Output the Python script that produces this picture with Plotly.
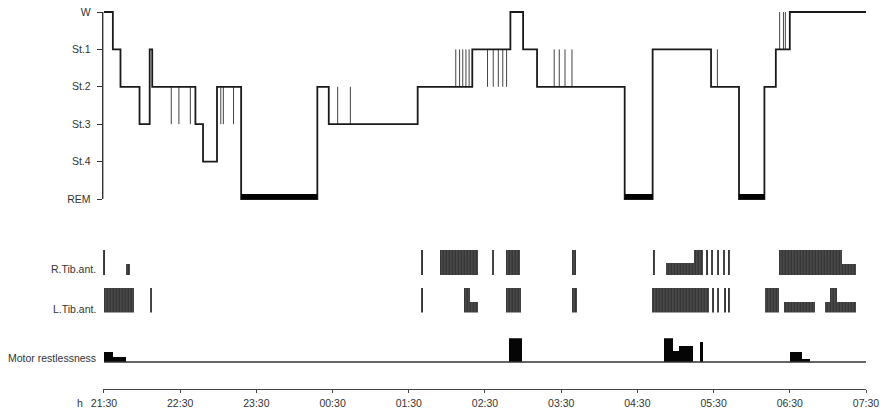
import plotly.graph_objects as go

# ---------------- data (times in minutes after 21:30) ----------------
tick_labels = ["21:30", "22:30", "23:30", "00:30", "01:30", "02:30",
               "03:30", "04:30", "05:30", "06:30", "07:30"]
tick_minutes = [0, 60, 120, 180, 240, 300, 360, 420, 480, 540, 600]

stage_names = ["REM", "St.4", "St.3", "St.2", "St.1", "W"]

hyp_start_min = [0, 7, 13, 28, 36, 38, 72, 78, 89, 108, 168, 177, 247, 290,
                 320, 330, 341, 410, 432, 478, 500, 520, 529, 540]
hyp_stage = ["W", "St.1", "St.2", "St.3", "St.1", "St.2", "St.3", "St.4", "St.2",
             "REM", "St.2", "St.3", "St.2", "St.1", "W", "St.1", "St.2", "REM",
             "St.1", "St.2", "REM", "St.2", "St.1", "W"]
hyp_end_min = 600

spike_min = [53, 59, 68, 92, 94, 102, 184, 194, 277, 280, 282.5, 285, 287.5,
             302, 306.5, 310.5, 314, 317, 354.5, 358.5, 363, 368.5, 483,
             532, 535, 536.5]
spike_stage = ["St.3", "St.3", "St.3", "St.3", "St.3", "St.3", "St.2", "St.2",
               "St.1", "St.1", "St.1", "St.1", "St.1", "St.2", "St.2", "St.2",
               "St.2", "St.2", "St.1", "St.1", "St.1", "St.1", "St.1",
               "W", "W", "W"]

# EMG bursts: start, end (minutes), relative amplitude
r_tib_start = [0, 17, 250.4, 264, 306, 316.3, 368, 433.1, 442.5, 464, 474.5, 478.5,
               483.2, 487.9, 491.8, 531, 581.1]
r_tib_end = [0, 20.2, 250.4, 294.2, 306, 327.6, 371.4, 433.1, 464, 471.6, 474.5, 478.5,
             483.2, 487.9, 491.8, 581.1, 591.8]
r_tib_amp = [1, 0.45, 1, 1, 1, 1, 1, 1, 0.5, 1, 1, 1, 1, 1, 1, 1, 0.45]

l_tib_start = [0, 37, 250.4, 283.5, 288.2, 316.3, 368.2, 431.2, 479.6, 483.5, 489,
               492.1, 520, 535.5, 567.7, 571.7, 577.2]
l_tib_end = [23.6, 37, 250.4, 288.2, 294.2, 328.3, 372.2, 475.8, 479.6, 483.5, 489,
             492.1, 531.6, 559.9, 571.7, 577.2, 592.1]
l_tib_amp = [1, 1, 1, 1, 0.45, 1, 1, 1, 1, 1, 1, 1, 1, 0.45, 0.45, 1, 0.45]

motor_start = [0, 7.1, 318.4, 440.4, 447.8, 452.2, 468.7, 539.6, 549.3]
motor_end = [7.1, 17.3, 328.9, 447.8, 452.2, 463.5, 471.4, 549.3, 555.9]
motor_level = [4, 2, 10, 10, 4.6, 6.8, 8.2, 4, 1.2]

# ---------------- build ----------------
lvl = {s: i for i, s in enumerate(stage_names)}
FONT = "Liberation Sans, Arial, sans-serif"
INK = "#1a1a1a"

hx, hy = [], []
for t, s in zip(hyp_start_min, hyp_stage):
    hx.append(t)
    hy.append(lvl[s])
hx.append(hyp_end_min)
hy.append(lvl[hyp_stage[-1]])


def stage_at(t):
    cur = hyp_stage[0]
    for st, s in zip(hyp_start_min, hyp_stage):
        if st <= t:
            cur = s
    return cur


sx, sy = [], []
for t, s in zip(spike_min, spike_stage):
    sx += [t, t, None]
    sy += [lvl[stage_at(t)], lvl[s], None]

rx, ry = [], []
for i, s in enumerate(hyp_stage):
    if s == "REM":
        end = hyp_start_min[i + 1] if i + 1 < len(hyp_start_min) else hyp_end_min
        rx += [hyp_start_min[i], end, None]
        ry += [0.07, 0.07, None]

fig = go.Figure()
fig.add_trace(go.Scatter(x=sx, y=sy, mode="lines", line=dict(color="#444", width=1),
                         yaxis="y", showlegend=False, hoverinfo="skip"))
fig.add_trace(go.Scatter(x=hx, y=hy, mode="lines", line=dict(color=INK, width=1.8, shape="hv"),
                         yaxis="y", showlegend=False))
fig.add_trace(go.Scatter(x=rx, y=ry, mode="lines", line=dict(color="#000", width=5),
                         yaxis="y", showlegend=False, hoverinfo="skip"))

MINW = 1.1


def bursts(starts, ends, amps, yax):
    xs = [(a + b) / 2 for a, b in zip(starts, ends)]
    ws = [max(b - a, MINW) for a, b in zip(starts, ends)]
    return go.Bar(x=xs, y=amps, width=ws, base=0, yaxis=yax, showlegend=False,
                  marker=dict(color="#2a2a2a", line=dict(width=0),
                              pattern=dict(shape="|", fgcolor="#050505", bgcolor="#5a5a5a",
                                           size=3, solidity=0.6)))


fig.add_trace(bursts(r_tib_start, r_tib_end, r_tib_amp, "y2"))
fig.add_trace(bursts(l_tib_start, l_tib_end, l_tib_amp, "y3"))

fig.add_trace(go.Scatter(x=[tick_minutes[0], tick_minutes[-1]], y=[0, 0], mode="lines",
                         line=dict(color="#333", width=1.5), yaxis="y4", showlegend=False))
fig.add_trace(go.Bar(x=[(a + b) / 2 for a, b in zip(motor_start, motor_end)], y=motor_level,
                     width=[b - a for a, b in zip(motor_start, motor_end)], base=0,
                     yaxis="y4", showlegend=False,
                     marker=dict(color="#050505", line=dict(width=0))))

H = 413.0
W = 880.0
x0p, x1p = 102.7, 866.0


def dom(top_px, bot_px):
    return [1 - bot_px / H, 1 - top_px / H]


fig.update_layout(
    width=880, height=413, margin=dict(l=0, r=0, t=0, b=0, autoexpand=False),
    paper_bgcolor="white", plot_bgcolor="rgba(0,0,0,0)",
    barmode="overlay", bargap=0,
    font=dict(family=FONT, size=10, color="#333"),
    xaxis=dict(domain=[x0p / W, x1p / W], range=[-1, 600], anchor="free",
               position=1 - 388.5 / H, showline=True, linecolor="#444", linewidth=1.3,
               ticks="outside", ticklen=3, tickcolor="#444", tickwidth=1.3,
               tickvals=tick_minutes, ticktext=tick_labels, showgrid=False, zeroline=False,
               automargin=False, ticklabelstandoff=2,
               tickfont=dict(size=10.5, color="#333", family=FONT)),
    yaxis=dict(domain=dom(8.26, 202.74), range=[-0.1, 5.1], anchor="x",
               tickvals=list(range(6)), ticktext=stage_names, ticks="outside", ticklen=5,
               tickcolor="#333", tickwidth=1.3, showline=False, showgrid=False,
               zeroline=False, automargin=False, ticklabelstandoff=4,
               tickfont=dict(size=10.5, color="#333", family=FONT)),
    yaxis2=dict(domain=dom(250, 275), range=[0, 1], anchor="x", visible=False, automargin=False),
    yaxis3=dict(domain=dom(287.5, 312.5), range=[0, 1], anchor="x", visible=False, automargin=False),
    yaxis4=dict(domain=dom(338.3, 363.2), range=[-0.5, 10], anchor="x", visible=False, automargin=False),
    shapes=[dict(type="line", xref="paper", yref="y", x0=x0p / W, x1=x0p / W, y0=0, y1=5,
                 line=dict(color="#333", width=1.4))],
)

labels = [("R.Tib.ant.", 269), ("L.Tib.ant.", 309), ("Motor restlessness", 357.5)]
for txt, ypx in labels:
    fig.add_annotation(text=txt, xref="paper", yref="paper", x=98 / W, y=1 - ypx / H,
                       xanchor="right", yanchor="middle", showarrow=False,
                       font=dict(size=10.5, color="#333", family=FONT))
fig.add_annotation(text="h", xref="paper", yref="paper", x=80 / W, y=1 - 403 / H,
                   xanchor="center", yanchor="middle", showarrow=False,
                   font=dict(size=10.5, color="#333", family=FONT))

fig.write_html("out.html")
